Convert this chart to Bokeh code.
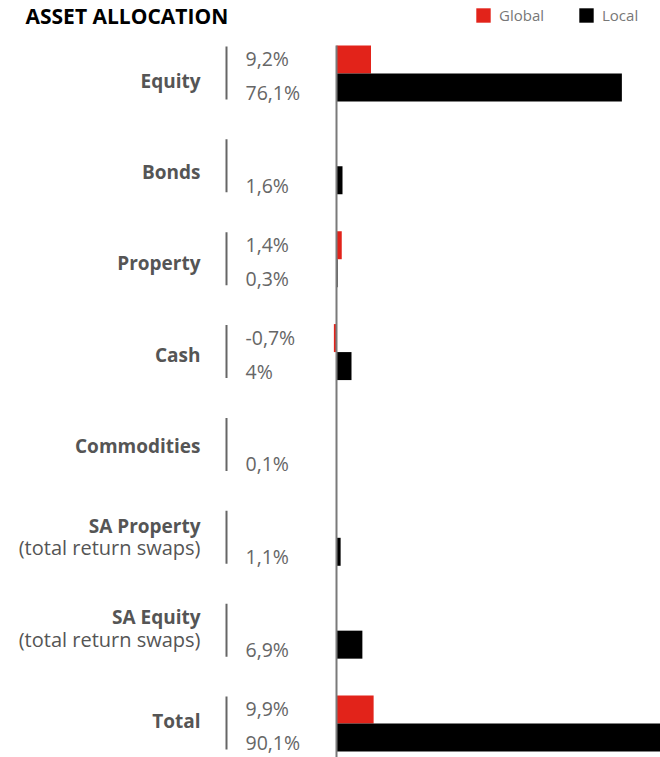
from bokeh.plotting import figure
from bokeh.models import Range1d, ColumnDataSource, Legend, LegendItem
from bokeh.core.properties import value
from bokeh.embed import file_html
from bokeh.resources import INLINE

categories = ["Equity", "Bonds", "Property", "Cash", "Commodities",
              "SA Property", "SA Equity", "Total"]
subtitles = ["", "", "", "", "", "(total return swaps)", "(total return swaps)", ""]
global_vals = [9.2, None, 1.4, -0.7, None, None, None, 9.9]
local_vals = [76.1, 1.6, 0.3, 4.0, 0.1, 1.1, 6.9, 90.1]

RED = "#E2231A"
BLACK = "#000000"
W, H = 660, 757
X0 = 336.0      # pixel of value 0
S = 3.75        # pixels per percent
Y0 = 73.0       # pixel of first row centre
R = 92.86       # pixels per row
BAR = 28.0      # bar thickness px
LABEL_PITCH = 91.43 / 92.86   # category label spacing relative to rows

def xd(px):
    return (px - X0) / S

def dy(px):
    return px / R

FONT = value("Open Sans")

p = figure(width=W, height=H, output_backend="svg", toolbar_location=None,
           x_range=Range1d(xd(0), xd(W)),
           y_range=Range1d((H - Y0) / R, -Y0 / R),
           min_border=0, min_border_left=0, min_border_right=0,
           min_border_top=0, min_border_bottom=0)
p.axis.visible = False
p.grid.visible = False
p.outline_line_color = None
p.background_fill_color = None
p.border_fill_color = None

rows = list(range(len(categories)))

def fmt(v):
    return f"{v:g}".replace(".", ",") + "%"

g_idx = [i for i, v in zip(rows, global_vals) if v is not None]
g_src = ColumnDataSource(dict(
    y=[i - dy(BAR / 2) for i in g_idx],
    v=[global_vals[i] for i in g_idx],
    ty=[i - dy(15) for i in g_idx],
    lab=[fmt(global_vals[i]) for i in g_idx],
))
l_src = ColumnDataSource(dict(
    y=[i + dy(BAR / 2) for i in rows],
    v=local_vals,
    ty=[i + dy(19) for i in rows],
    lab=[fmt(v) for v in local_vals],
))

rg = p.hbar(y="y", left=0, right="v", height=dy(BAR), source=g_src,
            fill_color=RED, line_color=None)
rl = p.hbar(y="y", left=0, right="v", height=dy(BAR), source=l_src,
            fill_color=BLACK, line_color=None)

# zero axis line
p.segment(x0=[0], x1=[0], y0=[-dy(BAR)], y1=[len(categories)],
          line_color="#7a7a7a", line_width=2)

# separators
p.segment(x0=xd(226), x1=xd(226), y0=[i - dy(27) for i in rows],
          y1=[i + dy(26) for i in rows], line_color="#666666", line_width=2)

# value labels
p.text(x=xd(245), y="ty", text="lab", source=g_src, text_font=FONT,
       text_font_size="19.5px", text_color="#666666", text_baseline="middle",
       text_align="left")
p.text(x=xd(245), y="ty", text="lab", source=l_src, text_font=FONT,
       text_font_size="19.5px", text_color="#666666", text_baseline="middle",
       text_align="left")

# category labels
lab_y = [dy(7) + i * LABEL_PITCH for i in rows]
one = [i for i in rows if not subtitles[i]]
two = [i for i in rows if subtitles[i]]
p.text(x=xd(200), y=[lab_y[i] for i in one], text=[categories[i] for i in one],
       text_font=FONT, text_font_size="19px", text_font_style="bold",
       text_color="#555555", text_align="right", text_baseline="middle")
p.text(x=xd(200), y=[lab_y[i] - dy(12) for i in two], text=[categories[i] for i in two],
       text_font=FONT, text_font_size="19px", text_font_style="bold",
       text_color="#555555", text_align="right", text_baseline="middle")
p.text(x=xd(200), y=[lab_y[i] + dy(10) for i in two], text=[subtitles[i] for i in two],
       text_font=FONT, text_font_size="20px",
       text_color="#555555", text_align="right", text_baseline="middle")

# title
p.text(x=[xd(25)], y=[-dy(Y0 - 15)], text=["ASSET ALLOCATION"], text_font=FONT,
       text_font_size="21px", text_font_style="bold", text_color="#000000",
       text_align="left", text_baseline="middle")

legend = Legend(items=[LegendItem(label="Global", renderers=[rg]),
                       LegendItem(label="Local", renderers=[rl])],
                orientation="horizontal", location=(474, H - 25),
                glyph_width=18, glyph_height=18, label_height=18,
                label_standoff=7, spacing=33, padding=0, margin=0,
                label_text_font="Open Sans", label_text_font_size="15px",
                label_text_color="#777777", border_line_color=None,
                background_fill_alpha=0)
p.add_layout(legend, "center")

open("out.html", "w").write(file_html(p, INLINE))
